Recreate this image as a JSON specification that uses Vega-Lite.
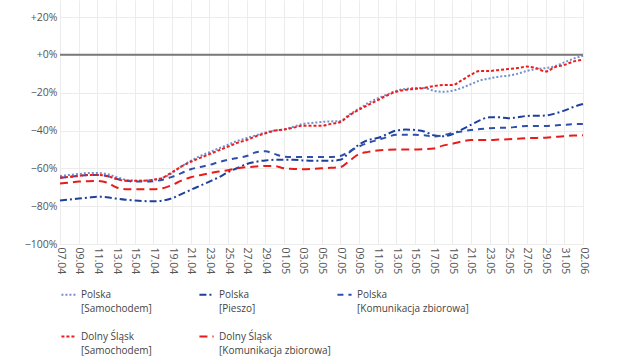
{
"$schema": "https://vega.github.io/schema/vega-lite/v6.json",
"width": 523, "height": 244,
"autosize": {"type": "none"},
"padding": {"left": 60, "top": 0, "right": 47, "bottom": 116},
"config": {"view": {"stroke": null}, "font": "Open Sans"},
"encoding": {
  "y": {"field": "v", "type": "quantitative",
    "scale": {"domain": [-100, 29], "nice": false, "zero": false},
    "axis": {"values": [-100, -80, -60, -40, -20, 0, 20], "title": null, "domain": false, "ticks": false, "labelPadding": 3, "grid": true, "gridColor": "#ececec", "labelFontSize": 10.5, "labelColor": "#555",
      "labelExpr": "(datum.value >= 0 ? '+' : '−') + abs(datum.value) + '%'"}}
},
"layer": [
{
"data": {"values": [
{"d":"2020/04/07","s":"ps","v":-64},{"d":"2020/04/08","s":"ps","v":-63.5},{"d":"2020/04/09","s":"ps","v":-63},{"d":"2020/04/10","s":"ps","v":-62.5},{"d":"2020/04/11","s":"ps","v":-62.5},{"d":"2020/04/12","s":"ps","v":-63},{"d":"2020/04/13","s":"ps","v":-64.5},{"d":"2020/04/14","s":"ps","v":-66},{"d":"2020/04/15","s":"ps","v":-66.5},{"d":"2020/04/16","s":"ps","v":-66.5},{"d":"2020/04/17","s":"ps","v":-66},{"d":"2020/04/18","s":"ps","v":-65},{"d":"2020/04/19","s":"ps","v":-62.5},{"d":"2020/04/20","s":"ps","v":-59},{"d":"2020/04/21","s":"ps","v":-56},{"d":"2020/04/22","s":"ps","v":-53.5},{"d":"2020/04/23","s":"ps","v":-51.5},{"d":"2020/04/24","s":"ps","v":-49.5},{"d":"2020/04/25","s":"ps","v":-47.5},{"d":"2020/04/26","s":"ps","v":-45.5},{"d":"2020/04/27","s":"ps","v":-44},{"d":"2020/04/28","s":"ps","v":-42.5},{"d":"2020/04/29","s":"ps","v":-41},{"d":"2020/04/30","s":"ps","v":-40},{"d":"2020/05/01","s":"ps","v":-39.5},{"d":"2020/05/02","s":"ps","v":-38},{"d":"2020/05/03","s":"ps","v":-36.5},{"d":"2020/05/04","s":"ps","v":-36},{"d":"2020/05/05","s":"ps","v":-35.5},{"d":"2020/05/06","s":"ps","v":-35.2},{"d":"2020/05/07","s":"ps","v":-35},{"d":"2020/05/08","s":"ps","v":-31.5},{"d":"2020/05/09","s":"ps","v":-28.5},{"d":"2020/05/10","s":"ps","v":-25.5},{"d":"2020/05/11","s":"ps","v":-23},{"d":"2020/05/12","s":"ps","v":-21},{"d":"2020/05/13","s":"ps","v":-19},{"d":"2020/05/14","s":"ps","v":-18},{"d":"2020/05/15","s":"ps","v":-17.5},{"d":"2020/05/16","s":"ps","v":-17.5},{"d":"2020/05/17","s":"ps","v":-19},{"d":"2020/05/18","s":"ps","v":-19.5},{"d":"2020/05/19","s":"ps","v":-19},{"d":"2020/05/20","s":"ps","v":-17.5},{"d":"2020/05/21","s":"ps","v":-15.5},{"d":"2020/05/22","s":"ps","v":-13.5},{"d":"2020/05/23","s":"ps","v":-12.5},{"d":"2020/05/24","s":"ps","v":-11.5},{"d":"2020/05/25","s":"ps","v":-11},{"d":"2020/05/26","s":"ps","v":-10},{"d":"2020/05/27","s":"ps","v":-8.5},{"d":"2020/05/28","s":"ps","v":-7.5},{"d":"2020/05/29","s":"ps","v":-7},{"d":"2020/05/30","s":"ps","v":-6},{"d":"2020/05/31","s":"ps","v":-4},{"d":"2020/06/01","s":"ps","v":-2},{"d":"2020/06/02","s":"ps","v":-0.5},
{"d":"2020/04/07","s":"pp","v":-77},{"d":"2020/04/08","s":"pp","v":-76.5},{"d":"2020/04/09","s":"pp","v":-76},{"d":"2020/04/10","s":"pp","v":-75.5},{"d":"2020/04/11","s":"pp","v":-75},{"d":"2020/04/12","s":"pp","v":-75.3},{"d":"2020/04/13","s":"pp","v":-76},{"d":"2020/04/14","s":"pp","v":-76.6},{"d":"2020/04/15","s":"pp","v":-77},{"d":"2020/04/16","s":"pp","v":-77.3},{"d":"2020/04/17","s":"pp","v":-77.4},{"d":"2020/04/18","s":"pp","v":-77},{"d":"2020/04/19","s":"pp","v":-75.8},{"d":"2020/04/20","s":"pp","v":-73.6},{"d":"2020/04/21","s":"pp","v":-71.4},{"d":"2020/04/22","s":"pp","v":-69.2},{"d":"2020/04/23","s":"pp","v":-67},{"d":"2020/04/24","s":"pp","v":-64.7},{"d":"2020/04/25","s":"pp","v":-62},{"d":"2020/04/26","s":"pp","v":-59.8},{"d":"2020/04/27","s":"pp","v":-57.7},{"d":"2020/04/28","s":"pp","v":-56.5},{"d":"2020/04/29","s":"pp","v":-55.8},{"d":"2020/04/30","s":"pp","v":-55.5},{"d":"2020/05/01","s":"pp","v":-55.5},{"d":"2020/05/02","s":"pp","v":-55.5},{"d":"2020/05/03","s":"pp","v":-55.8},{"d":"2020/05/04","s":"pp","v":-56},{"d":"2020/05/05","s":"pp","v":-56},{"d":"2020/05/06","s":"pp","v":-56},{"d":"2020/05/07","s":"pp","v":-55.5},{"d":"2020/05/08","s":"pp","v":-51.5},{"d":"2020/05/09","s":"pp","v":-47.5},{"d":"2020/05/10","s":"pp","v":-45},{"d":"2020/05/11","s":"pp","v":-44},{"d":"2020/05/12","s":"pp","v":-42},{"d":"2020/05/13","s":"pp","v":-40},{"d":"2020/05/14","s":"pp","v":-39.5},{"d":"2020/05/15","s":"pp","v":-39.7},{"d":"2020/05/16","s":"pp","v":-40.5},{"d":"2020/05/17","s":"pp","v":-42.5},{"d":"2020/05/18","s":"pp","v":-43},{"d":"2020/05/19","s":"pp","v":-42},{"d":"2020/05/20","s":"pp","v":-39.5},{"d":"2020/05/21","s":"pp","v":-37},{"d":"2020/05/22","s":"pp","v":-34.5},{"d":"2020/05/23","s":"pp","v":-33},{"d":"2020/05/24","s":"pp","v":-33},{"d":"2020/05/25","s":"pp","v":-33.5},{"d":"2020/05/26","s":"pp","v":-33},{"d":"2020/05/27","s":"pp","v":-32.3},{"d":"2020/05/28","s":"pp","v":-32.2},{"d":"2020/05/29","s":"pp","v":-32.1},{"d":"2020/05/30","s":"pp","v":-31},{"d":"2020/05/31","s":"pp","v":-29.5},{"d":"2020/06/01","s":"pp","v":-27.5},{"d":"2020/06/02","s":"pp","v":-26},
{"d":"2020/04/07","s":"pk","v":-65},{"d":"2020/04/08","s":"pk","v":-64.5},{"d":"2020/04/09","s":"pk","v":-64},{"d":"2020/04/10","s":"pk","v":-63.5},{"d":"2020/04/11","s":"pk","v":-63.5},{"d":"2020/04/12","s":"pk","v":-64},{"d":"2020/04/13","s":"pk","v":-65.5},{"d":"2020/04/14","s":"pk","v":-66.5},{"d":"2020/04/15","s":"pk","v":-67},{"d":"2020/04/16","s":"pk","v":-67},{"d":"2020/04/17","s":"pk","v":-66.8},{"d":"2020/04/18","s":"pk","v":-66},{"d":"2020/04/19","s":"pk","v":-64.5},{"d":"2020/04/20","s":"pk","v":-62.5},{"d":"2020/04/21","s":"pk","v":-60.5},{"d":"2020/04/22","s":"pk","v":-59.3},{"d":"2020/04/23","s":"pk","v":-58.2},{"d":"2020/04/24","s":"pk","v":-56.7},{"d":"2020/04/25","s":"pk","v":-55.5},{"d":"2020/04/26","s":"pk","v":-54.5},{"d":"2020/04/27","s":"pk","v":-53.5},{"d":"2020/04/28","s":"pk","v":-51.5},{"d":"2020/04/29","s":"pk","v":-51},{"d":"2020/04/30","s":"pk","v":-52.5},{"d":"2020/05/01","s":"pk","v":-53.8},{"d":"2020/05/02","s":"pk","v":-54},{"d":"2020/05/03","s":"pk","v":-54},{"d":"2020/05/04","s":"pk","v":-54},{"d":"2020/05/05","s":"pk","v":-54},{"d":"2020/05/06","s":"pk","v":-54},{"d":"2020/05/07","s":"pk","v":-53.5},{"d":"2020/05/08","s":"pk","v":-51},{"d":"2020/05/09","s":"pk","v":-48.5},{"d":"2020/05/10","s":"pk","v":-46.5},{"d":"2020/05/11","s":"pk","v":-45},{"d":"2020/05/12","s":"pk","v":-43.5},{"d":"2020/05/13","s":"pk","v":-42.3},{"d":"2020/05/14","s":"pk","v":-42.3},{"d":"2020/05/15","s":"pk","v":-42.3},{"d":"2020/05/16","s":"pk","v":-42.5},{"d":"2020/05/17","s":"pk","v":-43.2},{"d":"2020/05/18","s":"pk","v":-42.5},{"d":"2020/05/19","s":"pk","v":-41.4},{"d":"2020/05/20","s":"pk","v":-40.5},{"d":"2020/05/21","s":"pk","v":-39.7},{"d":"2020/05/22","s":"pk","v":-39.2},{"d":"2020/05/23","s":"pk","v":-38.8},{"d":"2020/05/24","s":"pk","v":-38.6},{"d":"2020/05/25","s":"pk","v":-38.5},{"d":"2020/05/26","s":"pk","v":-38},{"d":"2020/05/27","s":"pk","v":-37.6},{"d":"2020/05/28","s":"pk","v":-37.6},{"d":"2020/05/29","s":"pk","v":-37.6},{"d":"2020/05/30","s":"pk","v":-37.3},{"d":"2020/05/31","s":"pk","v":-37},{"d":"2020/06/01","s":"pk","v":-36.7},{"d":"2020/06/02","s":"pk","v":-36.5},
{"d":"2020/04/07","s":"ds","v":-65},{"d":"2020/04/08","s":"ds","v":-64.5},{"d":"2020/04/09","s":"ds","v":-64},{"d":"2020/04/10","s":"ds","v":-63.5},{"d":"2020/04/11","s":"ds","v":-63.5},{"d":"2020/04/12","s":"ds","v":-64},{"d":"2020/04/13","s":"ds","v":-65.5},{"d":"2020/04/14","s":"ds","v":-66.5},{"d":"2020/04/15","s":"ds","v":-66.5},{"d":"2020/04/16","s":"ds","v":-66.5},{"d":"2020/04/17","s":"ds","v":-66},{"d":"2020/04/18","s":"ds","v":-65},{"d":"2020/04/19","s":"ds","v":-62},{"d":"2020/04/20","s":"ds","v":-59},{"d":"2020/04/21","s":"ds","v":-56.5},{"d":"2020/04/22","s":"ds","v":-54.5},{"d":"2020/04/23","s":"ds","v":-52.5},{"d":"2020/04/24","s":"ds","v":-50.5},{"d":"2020/04/25","s":"ds","v":-48.5},{"d":"2020/04/26","s":"ds","v":-46.5},{"d":"2020/04/27","s":"ds","v":-45},{"d":"2020/04/28","s":"ds","v":-43},{"d":"2020/04/29","s":"ds","v":-41.5},{"d":"2020/04/30","s":"ds","v":-40},{"d":"2020/05/01","s":"ds","v":-39.5},{"d":"2020/05/02","s":"ds","v":-38.5},{"d":"2020/05/03","s":"ds","v":-37.5},{"d":"2020/05/04","s":"ds","v":-37.5},{"d":"2020/05/05","s":"ds","v":-37.5},{"d":"2020/05/06","s":"ds","v":-36.5},{"d":"2020/05/07","s":"ds","v":-35.5},{"d":"2020/05/08","s":"ds","v":-32},{"d":"2020/05/09","s":"ds","v":-29},{"d":"2020/05/10","s":"ds","v":-26.5},{"d":"2020/05/11","s":"ds","v":-24},{"d":"2020/05/12","s":"ds","v":-21.5},{"d":"2020/05/13","s":"ds","v":-19.5},{"d":"2020/05/14","s":"ds","v":-18.5},{"d":"2020/05/15","s":"ds","v":-18},{"d":"2020/05/16","s":"ds","v":-17.5},{"d":"2020/05/17","s":"ds","v":-16.5},{"d":"2020/05/18","s":"ds","v":-16},{"d":"2020/05/19","s":"ds","v":-16},{"d":"2020/05/20","s":"ds","v":-13.5},{"d":"2020/05/21","s":"ds","v":-10.5},{"d":"2020/05/22","s":"ds","v":-8.5},{"d":"2020/05/23","s":"ds","v":-8.5},{"d":"2020/05/24","s":"ds","v":-8},{"d":"2020/05/25","s":"ds","v":-7.5},{"d":"2020/05/26","s":"ds","v":-7},{"d":"2020/05/27","s":"ds","v":-6.2},{"d":"2020/05/28","s":"ds","v":-7},{"d":"2020/05/29","s":"ds","v":-8.8},{"d":"2020/05/30","s":"ds","v":-6.5},{"d":"2020/05/31","s":"ds","v":-5.3},{"d":"2020/06/01","s":"ds","v":-3.5},{"d":"2020/06/02","s":"ds","v":-2.6},
{"d":"2020/04/07","s":"dk","v":-68},{"d":"2020/04/08","s":"dk","v":-67.5},{"d":"2020/04/09","s":"dk","v":-67},{"d":"2020/04/10","s":"dk","v":-66.8},{"d":"2020/04/11","s":"dk","v":-66.7},{"d":"2020/04/12","s":"dk","v":-67.5},{"d":"2020/04/13","s":"dk","v":-70},{"d":"2020/04/14","s":"dk","v":-71},{"d":"2020/04/15","s":"dk","v":-71},{"d":"2020/04/16","s":"dk","v":-71},{"d":"2020/04/17","s":"dk","v":-71},{"d":"2020/04/18","s":"dk","v":-70.5},{"d":"2020/04/19","s":"dk","v":-68.8},{"d":"2020/04/20","s":"dk","v":-66.5},{"d":"2020/04/21","s":"dk","v":-64.7},{"d":"2020/04/22","s":"dk","v":-63.6},{"d":"2020/04/23","s":"dk","v":-62.6},{"d":"2020/04/24","s":"dk","v":-61.7},{"d":"2020/04/25","s":"dk","v":-61},{"d":"2020/04/26","s":"dk","v":-60},{"d":"2020/04/27","s":"dk","v":-59.4},{"d":"2020/04/28","s":"dk","v":-59},{"d":"2020/04/29","s":"dk","v":-58.7},{"d":"2020/04/30","s":"dk","v":-58.8},{"d":"2020/05/01","s":"dk","v":-60},{"d":"2020/05/02","s":"dk","v":-60.3},{"d":"2020/05/03","s":"dk","v":-60.5},{"d":"2020/05/04","s":"dk","v":-60.3},{"d":"2020/05/05","s":"dk","v":-60},{"d":"2020/05/06","s":"dk","v":-59.7},{"d":"2020/05/07","s":"dk","v":-59.4},{"d":"2020/05/08","s":"dk","v":-56},{"d":"2020/05/09","s":"dk","v":-52.5},{"d":"2020/05/10","s":"dk","v":-51.3},{"d":"2020/05/11","s":"dk","v":-50.6},{"d":"2020/05/12","s":"dk","v":-50.2},{"d":"2020/05/13","s":"dk","v":-50},{"d":"2020/05/14","s":"dk","v":-50},{"d":"2020/05/15","s":"dk","v":-50},{"d":"2020/05/16","s":"dk","v":-49.8},{"d":"2020/05/17","s":"dk","v":-49.5},{"d":"2020/05/18","s":"dk","v":-48},{"d":"2020/05/19","s":"dk","v":-47},{"d":"2020/05/20","s":"dk","v":-45.8},{"d":"2020/05/21","s":"dk","v":-45},{"d":"2020/05/22","s":"dk","v":-45},{"d":"2020/05/23","s":"dk","v":-45},{"d":"2020/05/24","s":"dk","v":-44.8},{"d":"2020/05/25","s":"dk","v":-44.6},{"d":"2020/05/26","s":"dk","v":-44.3},{"d":"2020/05/27","s":"dk","v":-44},{"d":"2020/05/28","s":"dk","v":-43.9},{"d":"2020/05/29","s":"dk","v":-43.8},{"d":"2020/05/30","s":"dk","v":-43.4},{"d":"2020/05/31","s":"dk","v":-43},{"d":"2020/06/01","s":"dk","v":-42.7},{"d":"2020/06/02","s":"dk","v":-42.5}
]},
"mark": {"type": "line", "interpolate": "monotone"},
"encoding": {
  "x": {"field": "d", "type": "temporal",
    "scale": {"domain": [{"year":2020,"month":4,"date":7},{"year":2020,"month":6,"date":2}], "nice": false},
    "axis": {"title": null, "format": "%d.%m", "labelAngle": 90, "labelFlush": false, "labelOverlap": false, "domain": false, "ticks": false, "labelPadding": 3, "grid": true, "gridColor": "#ececec", "labelFontSize": 10.5, "labelColor": "#555",
      "values": [{"year":2020,"month":4,"date":7},{"year":2020,"month":4,"date":9},{"year":2020,"month":4,"date":11},{"year":2020,"month":4,"date":13},{"year":2020,"month":4,"date":15},{"year":2020,"month":4,"date":17},{"year":2020,"month":4,"date":19},{"year":2020,"month":4,"date":21},{"year":2020,"month":4,"date":23},{"year":2020,"month":4,"date":25},{"year":2020,"month":4,"date":27},{"year":2020,"month":4,"date":29},{"year":2020,"month":5,"date":1},{"year":2020,"month":5,"date":3},{"year":2020,"month":5,"date":5},{"year":2020,"month":5,"date":7},{"year":2020,"month":5,"date":9},{"year":2020,"month":5,"date":11},{"year":2020,"month":5,"date":13},{"year":2020,"month":5,"date":15},{"year":2020,"month":5,"date":17},{"year":2020,"month":5,"date":19},{"year":2020,"month":5,"date":21},{"year":2020,"month":5,"date":23},{"year":2020,"month":5,"date":25},{"year":2020,"month":5,"date":27},{"year":2020,"month":5,"date":29},{"year":2020,"month":5,"date":31},{"year":2020,"month":6,"date":2}]}},
  "color": {"field": "s", "type": "nominal",
    "scale": {"domain": ["ps", "pp", "pk", "ds", "dk"], "range": ["#7490cc", "#1f3f9c", "#2e50ac", "#ee1c1c", "#e81a1a"]},
    "legend": {"title": null, "orient": "none", "legendX": 0, "legendY": 286, "direction": "horizontal", "columns": 3, "gridAlign": "all", "columnPadding": 2, "rowPadding": 14, "symbolType": "stroke", "symbolSize": 200, "labelFontSize": 10, "labelColor": "#444", "labelOffset": 4, "labelLimit": 250,
      "labelExpr": "datum.value == 'ps' ? ['Polska', '[Samochodem]'] : datum.value == 'pp' ? ['Polska', '[Pieszo]'] : datum.value == 'pk' ? ['Polska', '[Komunikacja zbiorowa]'] : datum.value == 'ds' ? ['Dolny Śląsk', '[Samochodem]'] : ['Dolny Śląsk', '[Komunikacja zbiorowa]']",
      "encode": {"labels": {"update": {"lineHeight": {"value": 14}}}}}},
  "strokeDash": {"field": "s", "type": "nominal",
    "scale": {"domain": ["ps", "pp", "pk", "ds", "dk"], "range": [[2, 2], [7, 3, 2, 3], [6, 5], [3, 2], [8, 5]]}},
  "strokeWidth": {"field": "s", "type": "nominal",
    "scale": {"domain": ["ps", "pp", "pk", "ds", "dk"], "range": [2, 2, 2, 3, 3]}}
}
},
{
"data": {"values": [{"v": 0}]},
"mark": {"type": "rule", "color": "#7a7a7a", "strokeWidth": 2},
"encoding": {}
}
]
}
